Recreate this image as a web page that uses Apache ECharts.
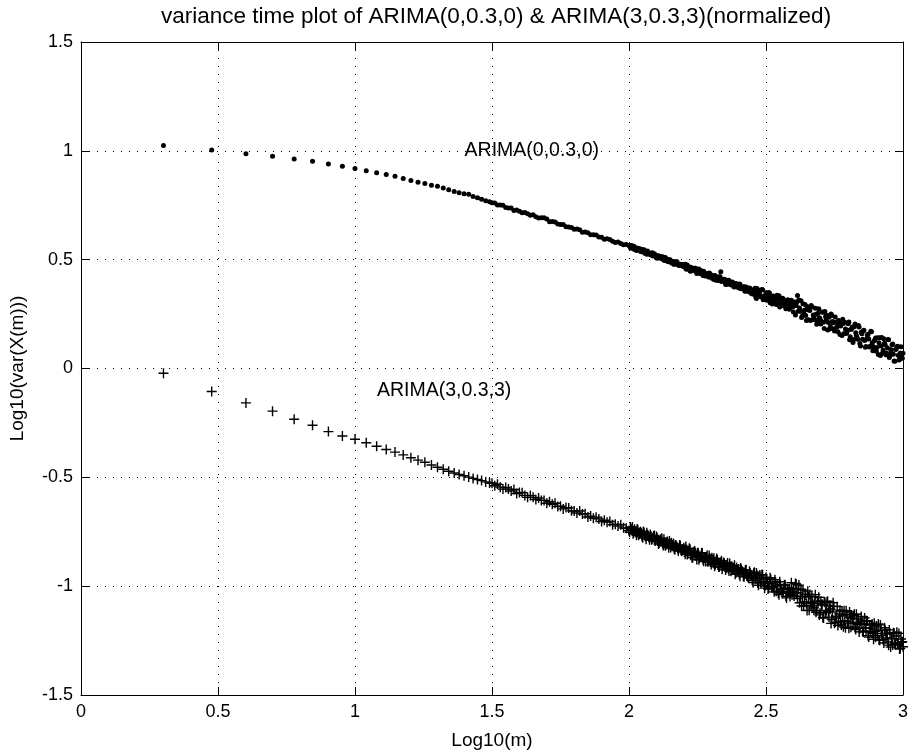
<!DOCTYPE html>
<html>
<head>
<meta charset="utf-8">
<script src="https://cdn.jsdelivr.net/npm/echarts@6/dist/echarts.min.js"></script>
<style>html,body{margin:0;padding:0;background:#fff}#c{width:911px;height:755px}</style>
</head>
<body>
<div id="c"></div>
<script>
// x = Log10(m)
const xs = [
0.301,0.477,0.602,0.699,0.778,0.845,0.903,0.954,1.000,1.041,1.079,1.114,1.146,1.176,1.204,1.230,1.255,1.279,1.301,1.322,1.342,1.362,1.380,1.398,1.415,1.431,1.447,1.462,1.477,1.491,
1.50,1.51,1.52,1.53,1.54,1.55,1.56,1.57,1.58,1.59,1.60,1.61,1.62,1.63,1.64,1.65,1.66,1.67,1.68,1.69,1.70,1.71,1.72,1.73,1.74,1.75,1.76,1.77,1.78,1.79,1.80,1.81,1.82,1.83,1.84,1.85,1.86,1.87,1.88,1.89,1.90,1.91,1.92,1.93,1.94,1.95,1.96,1.97,1.98,1.99,
2.000,2.005,2.010,2.015,2.020,2.025,2.030,2.035,2.040,2.045,2.050,2.055,2.060,2.065,2.070,2.075,2.080,2.085,2.090,2.095,
2.100,2.105,2.110,2.115,2.120,2.125,2.130,2.135,2.140,2.145,2.150,2.155,2.160,2.165,2.170,2.175,2.180,2.185,2.190,2.195,
2.200,2.205,2.210,2.215,2.220,2.225,2.230,2.235,2.240,2.245,2.250,2.255,2.260,2.265,2.270,2.275,2.280,2.285,2.290,2.295,
2.300,2.305,2.310,2.315,2.320,2.325,2.330,2.335,2.340,2.345,2.350,2.355,2.360,2.365,2.370,2.375,2.380,2.385,2.390,2.395,
2.400,2.405,2.410,2.415,2.420,2.425,2.430,2.435,2.440,2.445,2.450,2.455,2.460,2.465,2.470,2.475,2.480,2.485,2.490,2.495,
2.500,2.505,2.510,2.515,2.520,2.525,2.530,2.535,2.540,2.545,2.550,2.555,2.560,2.565,2.570,2.575,2.580,2.585,2.590,2.595,
2.600,2.605,2.610,2.615,2.620,2.625,2.630,2.635,2.640,2.645,2.650,2.655,2.660,2.665,2.670,2.675,2.680,2.685,2.690,2.695,
2.700,2.705,2.710,2.715,2.720,2.725,2.730,2.735,2.740,2.745,2.750,2.755,2.760,2.765,2.770,2.775,2.780,2.785,2.790,2.795,
2.800,2.805,2.810,2.815,2.820,2.825,2.830,2.835,2.840,2.845,2.850,2.855,2.860,2.865,2.870,2.875,2.880,2.885,2.890,2.895,
2.900,2.905,2.910,2.915,2.920,2.925,2.930,2.935,2.940,2.945,2.950,2.955,2.960,2.965,2.970,2.975,2.980,2.985,2.990,2.995,3.000
];

// ARIMA(0,0.3,0): Log10(var(X(m)))
const arima030 = [
1.024,1.004,0.987,0.975,0.963,0.952,0.939,0.929,0.919,0.909,0.899,0.891,0.883,0.873,0.864,0.856,0.850,0.842,0.837,0.829,0.821,0.813,0.807,0.803,0.800,0.790,0.784,0.777,0.771,0.766,
0.762,0.760,0.751,0.751,0.750,0.740,0.737,0.737,0.726,0.728,0.722,0.715,0.717,0.711,0.704,0.706,0.697,0.691,0.692,0.693,0.687,0.674,0.675,0.673,0.664,0.661,0.662,0.651,0.650,0.648,0.640,0.641,0.637,0.626,0.627,0.624,0.615,0.614,0.613,0.604,0.603,0.594,0.596,0.593,0.585,0.579,0.581,0.574,0.568,0.570,
0.565,0.556,0.565,0.555,0.547,0.555,0.549,0.544,0.550,0.536,0.543,0.545,0.532,0.525,0.535,0.529,0.521,0.532,0.519,0.523,
0.510,0.517,0.511,0.515,0.504,0.512,0.496,0.500,0.502,0.493,0.500,0.486,0.491,0.478,0.488,0.490,0.475,0.478,0.473,0.478,
0.468,0.479,0.456,0.465,0.468,0.447,0.460,0.451,0.461,0.443,0.447,0.457,0.437,0.448,0.427,0.438,0.432,0.436,0.420,0.437,
0.430,0.418,0.409,0.426,0.416,0.404,0.422,0.444,0.409,0.402,0.409,0.386,0.399,0.404,0.385,0.389,0.392,0.375,0.391,0.377,
0.371,0.387,0.374,0.366,0.376,0.355,0.369,0.360,0.370,0.349,0.357,0.341,0.369,0.322,0.353,0.357,0.335,0.363,0.316,0.333,
0.348,0.318,0.349,0.302,0.327,0.333,0.300,0.318,0.337,0.302,0.283,0.317,0.323,0.298,0.285,0.305,0.316,0.272,0.289,0.304,
0.260,0.305,0.289,0.335,0.315,0.263,0.234,0.298,0.268,0.243,0.285,0.224,0.266,0.290,0.225,0.240,0.277,0.203,0.254,0.233,
0.204,0.259,0.212,0.262,0.228,0.177,0.236,0.193,0.244,0.210,0.172,0.213,0.193,0.221,0.156,0.207,0.226,0.161,0.181,0.164,
0.206,0.132,0.179,0.191,0.133,0.205,0.152,0.134,0.191,0.103,0.160,0.172,0.129,0.101,0.153,0.135,0.102,0.169,0.081,0.128,
0.140,0.097,0.064,0.141,0.103,0.070,0.137,0.109,0.071,0.133,0.050,0.087,0.109,0.066,0.033,0.090,0.102,0.039,0.071,0.053,0.070
];

// ARIMA(3,0.3,3): Log10(var(X(m)))
const arima333 = [
-0.022,-0.106,-0.158,-0.196,-0.233,-0.261,-0.290,-0.310,-0.325,-0.341,-0.357,-0.372,-0.384,-0.397,-0.410,-0.421,-0.431,-0.443,-0.454,-0.463,-0.472,-0.480,-0.487,-0.493,-0.499,-0.505,-0.510,-0.515,-0.521,-0.526,
-0.527,-0.539,-0.532,-0.545,-0.554,-0.547,-0.554,-0.563,-0.556,-0.574,-0.570,-0.571,-0.583,-0.592,-0.584,-0.592,-0.602,-0.595,-0.606,-0.606,-0.619,-0.612,-0.624,-0.619,-0.634,-0.633,-0.645,-0.639,-0.641,-0.654,-0.655,-0.664,-0.655,-0.669,-0.667,-0.682,-0.678,-0.688,-0.683,-0.691,-0.703,-0.697,-0.706,-0.703,-0.718,-0.715,-0.724,-0.718,-0.732,-0.734,
-0.745,-0.728,-0.741,-0.759,-0.739,-0.754,-0.737,-0.766,-0.752,-0.760,-0.778,-0.754,-0.772,-0.755,-0.768,-0.787,-0.770,-0.781,-0.769,-0.793,
-0.772,-0.792,-0.802,-0.786,-0.780,-0.813,-0.799,-0.810,-0.795,-0.824,-0.805,-0.800,-0.817,-0.828,-0.811,-0.819,-0.839,-0.811,-0.835,-0.832,
-0.824,-0.853,-0.831,-0.844,-0.826,-0.858,-0.869,-0.845,-0.838,-0.861,-0.848,-0.879,-0.864,-0.846,-0.877,-0.869,-0.887,-0.858,-0.885,-0.872,
-0.901,-0.881,-0.872,-0.901,-0.873,-0.897,-0.911,-0.891,-0.922,-0.891,-0.905,-0.916,-0.894,-0.930,-0.910,-0.908,-0.926,-0.904,-0.940,-0.929,
-0.922,-0.954,-0.923,-0.934,-0.957,-0.926,-0.952,-0.959,-0.931,-0.951,-0.973,-0.941,-0.964,-0.939,-0.985,-0.958,-0.984,-0.947,-0.983,-1.009,
-0.959,-0.985,-1.008,-0.961,-1.003,-0.983,-1.026,-0.982,-0.998,-1.031,-0.980,-1.016,-1.033,-1.009,-0.995,-1.054,-1.024,-1.013,-1.026,-1.039,
-1.009,-1.031,-0.990,-1.057,-0.995,-1.048,-1.091,-1.018,-1.071,-1.039,-1.112,-1.050,-1.038,-1.090,-1.078,-1.111,-1.039,-1.112,-1.080,-1.132,
-1.070,-1.083,-1.146,-1.074,-1.112,-1.069,-1.142,-1.105,-1.153,-1.076,-1.170,-1.146,-1.094,-1.165,-1.110,-1.178,-1.136,-1.113,-1.191,-1.129,
-1.162,-1.119,-1.189,-1.147,-1.136,-1.188,-1.129,-1.176,-1.210,-1.160,-1.171,-1.210,-1.146,-1.206,-1.160,-1.234,-1.193,-1.178,-1.216,-1.170,
-1.235,-1.202,-1.174,-1.248,-1.202,-1.227,-1.261,-1.202,-1.218,-1.256,-1.201,-1.280,-1.242,-1.214,-1.266,-1.229,-1.263,-1.217,-1.286,-1.258,-1.278
];

// additional samples between the grid above, x = Log10(m) in [2, 2.5]
const xsMid = [
2.0025,2.0075,2.0125,2.0175,2.0225,2.0275,2.0325,2.0375,2.0425,2.0475,2.0525,2.0575,2.0625,2.0675,2.0725,2.0775,2.0825,2.0875,2.0925,2.0975,
2.1025,2.1075,2.1125,2.1175,2.1225,2.1275,2.1325,2.1375,2.1425,2.1475,2.1525,2.1575,2.1625,2.1675,2.1725,2.1775,2.1825,2.1875,2.1925,2.1975,
2.2025,2.2075,2.2125,2.2175,2.2225,2.2275,2.2325,2.2375,2.2425,2.2475,2.2525,2.2575,2.2625,2.2675,2.2725,2.2775,2.2825,2.2875,2.2925,2.2975,
2.3025,2.3075,2.3125,2.3175,2.3225,2.3275,2.3325,2.3375,2.3425,2.3475,2.3525,2.3575,2.3625,2.3675,2.3725,2.3775,2.3825,2.3875,2.3925,2.3975,
2.4025,2.4075,2.4125,2.4175,2.4225,2.4275,2.4325,2.4375,2.4425,2.4475,2.4525,2.4575,2.4625,2.4675,2.4725,2.4775,2.4825,2.4875,2.4925,2.4975
];
const arima030Mid = [
0.565,0.553,0.558,0.562,0.550,0.542,0.553,0.547,0.539,0.547,0.538,0.529,0.537,0.540,0.526,0.527,0.529,0.517,0.527,0.516,
0.507,0.518,0.508,0.509,0.512,0.499,0.510,0.498,0.491,0.498,0.494,0.483,0.492,0.482,0.490,0.481,0.473,0.479,0.472,0.478,
0.470,0.459,0.476,0.458,0.449,0.464,0.458,0.451,0.460,0.436,0.451,0.452,0.435,0.439,0.447,0.425,0.436,0.427,0.439,0.420,
0.415,0.422,0.427,0.405,0.419,0.408,0.421,0.400,0.404,0.410,0.387,0.401,0.406,0.391,0.385,0.397,0.376,0.386,0.388,0.375,
0.388,0.366,0.370,0.375,0.356,0.374,0.365,0.353,0.366,0.343,0.361,0.351,0.329,0.368,0.338,0.355,0.328,0.362,0.318,0.335
];
const arima333Mid = [
-0.752,-0.736,-0.728,-0.754,-0.747,-0.766,-0.743,-0.760,-0.750,-0.772,-0.749,-0.766,-0.784,-0.764,-0.775,-0.763,-0.787,-0.777,-0.767,-0.790,
-0.777,-0.806,-0.791,-0.786,-0.804,-0.785,-0.814,-0.799,-0.809,-0.793,-0.822,-0.811,-0.804,-0.833,-0.814,-0.827,-0.826,-0.814,-0.840,-0.832,
-0.843,-0.818,-0.854,-0.839,-0.830,-0.850,-0.868,-0.842,-0.848,-0.878,-0.847,-0.871,-0.863,-0.849,-0.885,-0.872,-0.866,-0.888,-0.859,-0.886,
-0.869,-0.895,-0.909,-0.885,-0.880,-0.912,-0.896,-0.883,-0.908,-0.895,-0.926,-0.902,-0.920,-0.896,-0.931,-0.920,-0.918,-0.945,-0.914,-0.932,
-0.944,-0.917,-0.931,-0.955,-0.940,-0.925,-0.956,-0.963,-0.941,-0.950,-0.983,-0.936,-0.965,-0.950,-0.996,-0.949,-0.982,-0.948,-0.978,-0.997
];

// additional samples in the noisy tail, x = Log10(m) in [2.5, 3]
const xsTail = [
2.5025,2.5075,2.5125,2.5175,2.5225,2.5275,2.5325,2.5375,2.5425,2.5475,2.5525,2.5575,2.5625,2.5675,2.5725,2.5775,2.5825,2.5875,2.5925,2.5975,
2.6025,2.6075,2.6125,2.6175,2.6225,2.6275,2.6325,2.6375,2.6425,2.6475,2.6525,2.6575,2.6625,2.6675,2.6725,2.6775,2.6825,2.6875,2.6925,2.6975,
2.7025,2.7075,2.7125,2.7175,2.7225,2.7275,2.7325,2.7375,2.7425,2.7475,2.7525,2.7575,2.7625,2.7675,2.7725,2.7775,2.7825,2.7875,2.7925,2.7975,
2.8025,2.8075,2.8125,2.8175,2.8225,2.8275,2.8325,2.8375,2.8425,2.8475,2.8525,2.8575,2.8625,2.8675,2.8725,2.8775,2.8825,2.8875,2.8925,2.8975,
2.9025,2.9075,2.9125,2.9175,2.9225,2.9275,2.9325,2.9375,2.9425,2.9475,2.9525,2.9575,2.9625,2.9675,2.9725,2.9775,2.9825,2.9875,2.9925,2.9975
];
const arima030Tail = [
0.313,0.336,0.347,0.317,0.296,0.332,0.319,0.294,0.322,0.334,0.298,0.290,0.321,0.300,0.275,0.312,0.298,0.279,0.313,0.283,
0.301,0.246,0.306,0.263,0.278,0.311,0.241,0.256,0.294,0.220,0.270,0.276,0.220,0.284,0.246,0.225,0.249,0.215,0.275,0.228,
0.216,0.258,0.184,0.239,0.245,0.211,0.181,0.250,0.216,0.182,0.237,0.190,0.169,0.206,0.195,0.152,0.207,0.213,0.161,0.176,
0.214,0.146,0.183,0.120,0.192,0.164,0.141,0.198,0.115,0.167,0.134,0.176,0.098,0.135,0.157,0.099,0.171,0.118,0.100,0.132,
0.079,0.141,0.118,0.060,0.142,0.084,0.116,0.063,0.095,0.132,0.059,0.071,0.113,0.035,0.087,0.099,0.061,0.043,0.100,0.047
];
const arima333Tail = [
-0.967,-1.013,-0.982,-0.969,-1.008,-1.001,-0.970,-1.023,-0.996,-1.039,-0.992,-1.015,-1.027,-0.994,-1.046,-1.013,-1.025,-1.048,-0.984,-1.024,
-1.045,-0.988,-1.031,-1.014,-1.076,-1.014,-1.047,-1.090,-1.038,-1.081,-1.023,-1.111,-1.074,-1.047,-1.100,-1.078,-1.120,-1.068,-1.051,-1.124,
-1.087,-1.144,-1.072,-1.120,-1.073,-1.116,-1.089,-1.171,-1.119,-1.092,-1.165,-1.138,-1.181,-1.128,-1.161,-1.114,-1.187,-1.160,-1.113,-1.170,
-1.193,-1.143,-1.132,-1.171,-1.129,-1.199,-1.166,-1.151,-1.194,-1.139,-1.208,-1.175,-1.192,-1.159,-1.228,-1.178,-1.212,-1.175,-1.244,-1.207,
-1.183,-1.226,-1.247,-1.178,-1.217,-1.246,-1.191,-1.238,-1.219,-1.271,-1.216,-1.241,-1.270,-1.215,-1.267,-1.212,-1.260,-1.289,-1.243,-1.255
];

const annotations = [
  { text: 'ARIMA(0,0.3,0)', x: 1.40, y: 1.00 },
  { text: 'ARIMA(3,0.3,3)', x: 1.08, y: -0.10 }
];

const titleText = 'variance time plot of ARIMA(0,0.3,0) & ARIMA(3,0.3,3)(normalized)';
const xName = 'Log10(m)';
const yName = 'Log10(var(X(m)))';

const FONT = '"Liberation Sans", Arial, Helvetica, sans-serif';

const chart = echarts.init(document.getElementById('c'), null, { renderer: 'canvas' });

function pairs(x, y) { return x.map((v, i) => [v, y[i]]); }
const d1 = pairs(xs, arima030).concat(pairs(xsMid, arima030Mid), pairs(xsTail, arima030Tail));
const d2 = pairs(xs, arima333).concat(pairs(xsMid, arima333Mid), pairs(xsTail, arima333Tail));

const gridDash = { type: [1, 7], color: '#000', width: 1 };
function axisBase() {
  return {
    axisLine: { show: true, onZero: false, lineStyle: { color: '#000', width: 1 } },
    axisTick: { show: true, inside: true, length: 8, lineStyle: { color: '#000' } }
  };
}

chart.setOption({
  animation: false,
  backgroundColor: '#fff',
  title: {
    text: titleText,
    left: 491, top: 0, textAlign: 'center',
    textStyle: { fontFamily: FONT, fontSize: 22.5, fontWeight: 'normal', color: '#000' }
  },
  grid: { left: 81, right: 6, top: 42, bottom: 58, containLabel: false },
  xAxis: [
    Object.assign(axisBase(), {
      type: 'value', min: 0, max: 3, interval: 0.5, position: 'bottom',
      name: xName, nameLocation: 'middle', nameGap: 36,
      nameTextStyle: { fontFamily: FONT, fontSize: 19, color: '#000' },
      axisLabel: { fontFamily: FONT, fontSize: 18, color: '#000', margin: 8 },
      splitLine: { show: true, lineStyle: gridDash }
    }),
    Object.assign(axisBase(), {
      type: 'value', min: 0, max: 3, interval: 0.5, position: 'top',
      axisLabel: { show: false }, splitLine: { show: false }
    })
  ],
  yAxis: [
    Object.assign(axisBase(), {
      type: 'value', min: -1.5, max: 1.5, interval: 0.5, position: 'left',
      name: yName, nameLocation: 'middle', nameGap: 54,
      nameTextStyle: { fontFamily: FONT, fontSize: 19, color: '#000' },
      axisLabel: { fontFamily: FONT, fontSize: 18, color: '#000', margin: 8 },
      splitLine: { show: true, lineStyle: gridDash }
    }),
    Object.assign(axisBase(), {
      type: 'value', min: -1.5, max: 1.5, interval: 0.5, position: 'right',
      axisLabel: { show: false }, splitLine: { show: false }
    })
  ],
  series: [
    {
      name: 'ARIMA(0,0.3,0)', type: 'scatter', data: d1,
      symbol: 'circle', symbolSize: 5,
      itemStyle: { color: '#000', opacity: 1 }, clip: false, silent: true
    },
    {
      name: 'ARIMA(3,0.3,3)', type: 'scatter', data: d2,
      symbol: 'path://M0,4.3h10v1.4h-10z M4.3,0h1.4v10h-1.4z', symbolSize: 10,
      itemStyle: { color: '#000', opacity: 1 }, clip: false, silent: true
    },
    {
      name: 'labels', type: 'scatter', symbolSize: 0,
      data: annotations.map(a => ({ value: [a.x, a.y], name: a.text })),
      label: {
        show: true, position: 'right', distance: 0,
        formatter: p => p.name,
        fontFamily: FONT, fontSize: 19.5, color: '#000',
        textBorderWidth: 0, opacity: 1
      },
      itemStyle: { opacity: 1 },
      silent: true
    }
  ]
});
</script>
</body>
</html>
